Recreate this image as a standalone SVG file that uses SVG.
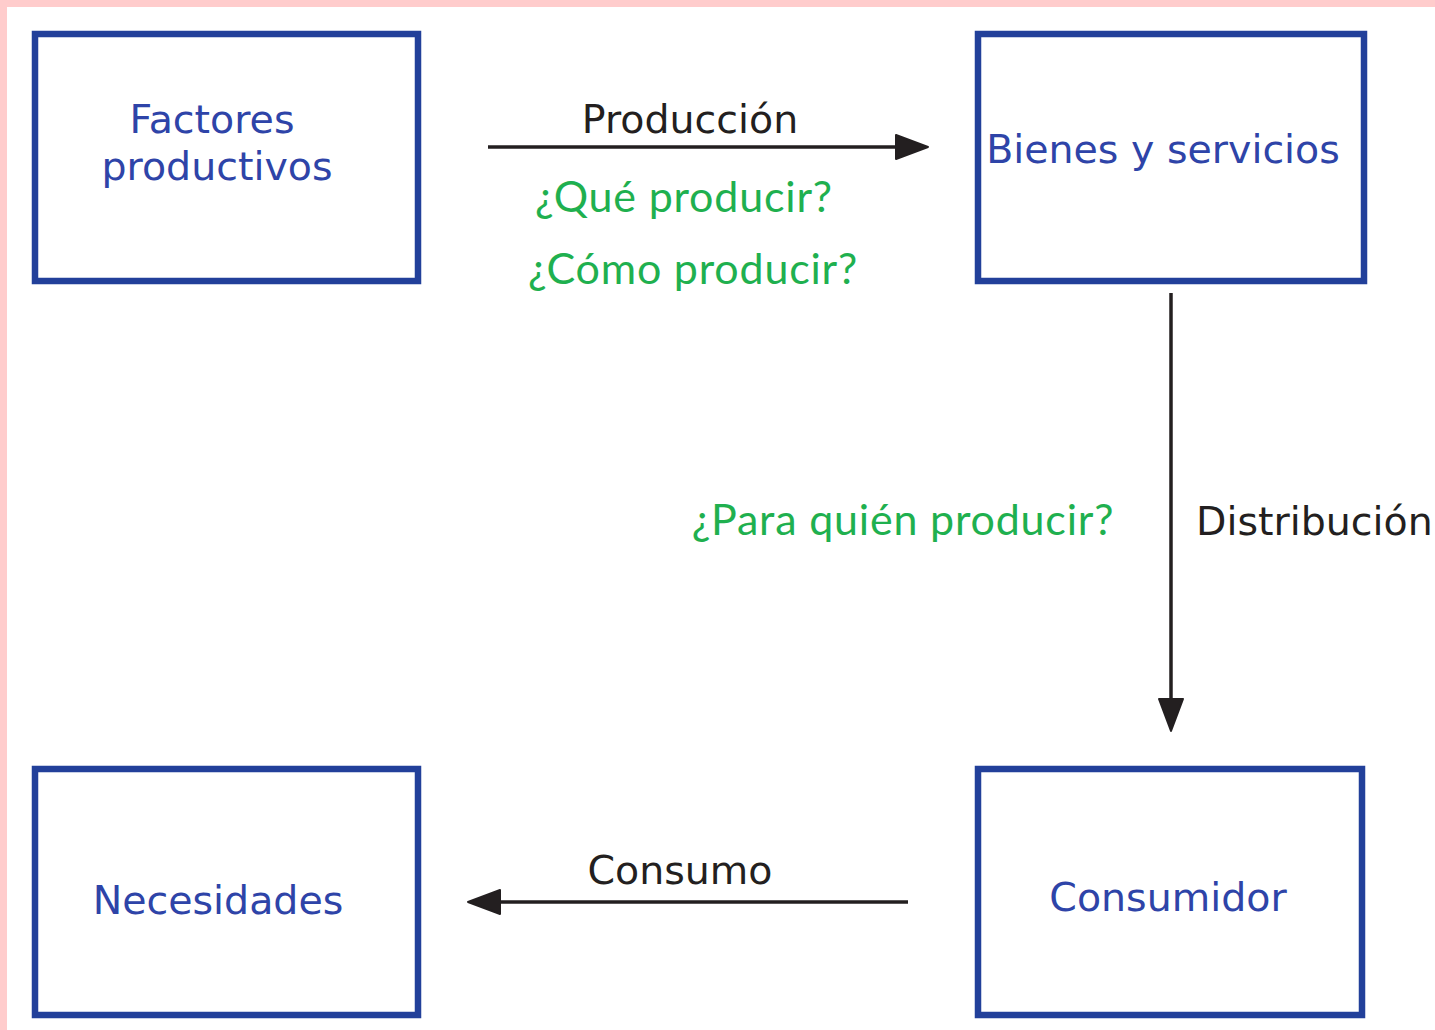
<svg xmlns="http://www.w3.org/2000/svg" width="1435" height="1030" viewBox="0 0 1435 1030">
<style>
.box{fill:#ffffff;stroke:#22409a;stroke-width:6.5}
.lbl{font-family:"DejaVu Sans",Verdana,sans-serif;font-size:39.5px;fill:#2e44a8;text-anchor:middle}
.dark{font-family:"DejaVu Sans",Verdana,sans-serif;font-size:39.5px;fill:#231f20}
.q{font-family:Lato,"Open Sans",sans-serif;font-size:43px;letter-spacing:0.8px;fill:#1fb04f;text-anchor:middle}
.ln{stroke:#231f20;stroke-width:3.5;fill:none}
.ah{fill:#231f20;stroke:#231f20;stroke-width:2;stroke-linejoin:round}
</style>
<rect x="0" y="0" width="1435" height="1030" fill="#ffffff"/>
<rect x="0" y="0" width="1435" height="7" fill="#ffcccc"/>
<rect x="0" y="0" width="7" height="1030" fill="#ffcccc"/>
<g id="node-factores">
<rect class="box" x="35" y="34" width="383" height="247"/>
<text class="lbl" x="212" y="133">Factores</text>
<text class="lbl" x="217" y="180">productivos</text>
</g>
<g id="node-bienes">
<rect class="box" x="978" y="34" width="386" height="247"/>
<text class="lbl" x="1163" y="163">Bienes y servicios</text>
</g>
<g id="node-necesidades">
<rect class="box" x="35" y="769" width="383" height="246"/>
<text class="lbl" x="218" y="914">Necesidades</text>
</g>
<g id="node-consumidor">
<rect class="box" x="978" y="769" width="384" height="246"/>
<text class="lbl" x="1168" y="911">Consumidor</text>
</g>
<g id="connectors">
<line class="ln" x1="488" y1="147" x2="900" y2="147"/>
<polygon class="ah" points="896,135 928,147 896,159"/>
<line class="ln" x1="1171" y1="293" x2="1171" y2="702"/>
<polygon class="ah" points="1159,699 1171,731 1183,699"/>
<line class="ln" x1="908" y1="902" x2="495" y2="902"/>
<polygon class="ah" points="500,890 468,902 500,914"/>
<text class="dark" x="690" y="133" text-anchor="middle">Producción</text>
<text class="q" x="684" y="212">¿Qué producir?</text>
<text class="q" x="693" y="284">¿Cómo producir?</text>
<text class="q" x="903" y="535">¿Para quién producir?</text>
<text class="dark" x="1196" y="535">Distribución</text>
<text class="dark" x="680" y="884" text-anchor="middle">Consumo</text>
</g>
</svg>
